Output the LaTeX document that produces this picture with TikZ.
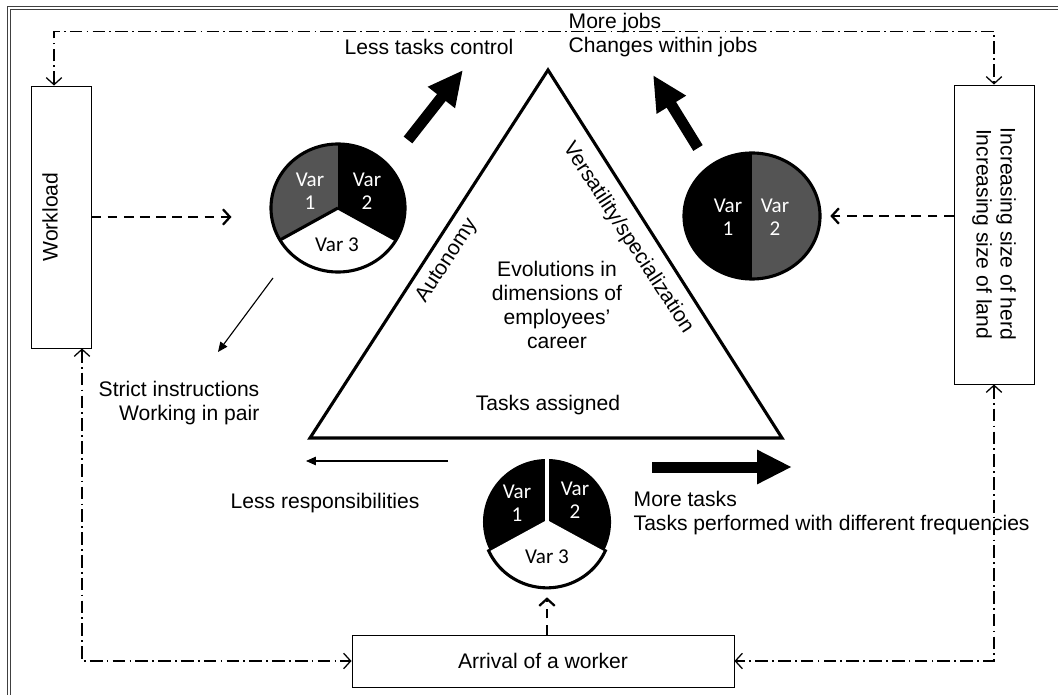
\documentclass[tikz,border=0pt]{standalone}
\usepackage{fontspec}
\setmainfont{Liberation Sans}
\newfontfamily\varfont{Carlito}
\usetikzlibrary{shapes, positioning, arrows.meta, calc}
\definecolor{pigrey}{gray}{0.33}
\tikzset{
  box/.style={draw, line width=0.6pt, inner sep=0pt},
  txt/.style={font=\fontsize{15}{17}\selectfont, inner sep=1pt},
  var/.style={font=\varfont\fontsize{15}{16.5}\selectfont, align=center, inner sep=0pt},
  pie/.style={ellipse, inner sep=0pt},
  fat/.style={line width=0.275cm, -{Triangle[width=0.8cm, length=0.875cm]}},
  thinarrow/.style={line width=0.8pt, -{Triangle[width=6pt, length=7pt]}},
  dashdot/.style={line width=0.9pt, dash pattern=on 9pt off 3pt on 1.2pt off 3pt, {Straight Barb[length=5pt, width=11pt]}-{Straight Barb[length=5pt, width=11pt]}},
  dasharrow/.style={line width=1.6pt, dash pattern=on 7pt off 4.5pt, -{Straight Barb[length=5pt, width=11pt]}},
  frame/.style={line width=0.6pt, gray!50!black},
}

\begin{document}
\begin{tikzpicture}[x=0.025cm, y=-0.025cm]
        \useasboundingbox (0,0) rectangle (1058,695);
        \draw[frame] (7.5,695) -- (7.5,6.5) -- (1058,6.5);
        \draw[frame] (10.5,695) -- (10.5,9.5) -- (1058,9.5);

        \node[box, minimum width=1.5cm, minimum height=6.55cm] at (61,217) (workload) {};
        \node[txt, rotate=90] at (50,217) (wl) {Workload};
        \node[box, minimum width=2cm, minimum height=7.475cm] at (994,234.5) (herd) {};
        \node[txt, rotate=-90, align=center] at (994,234) (hl) {Increasing size of herd\\Increasing size of land};
        \node[box, txt, minimum width=9.55cm, minimum height=1.3cm] at (543,661) (arrival) {Arrival of a worker};

        \coordinate (apex) at (548,70);
        \coordinate (tl) at (310,438);
        \coordinate (tr) at (782,438);
        \draw[line width=2.2pt, line join=miter] (tl) -- (apex) -- (tr) -- cycle;
        \node[txt, align=center] at (557,305) (evo) {Evolutions in\\dimensions of\\employees’\\career};
        \node[txt] at (548,405) (assigned) {Tasks assigned};
        \node[txt, rotate=57] at (447,261) (auto) {Autonomy};
        \node[txt, rotate=-57] at (628,238) (vers) {Versatility/specialization};

        \node[pie, minimum width=3.35cm, minimum height=3.2cm] at (338,208) (pieA) {};
        \fill[pigrey] (pieA.center) -- ++(90:1.6cm) arc[start angle=90, end angle=210, x radius=1.675cm, y radius=1.6cm] -- cycle;
        \fill[black] (pieA.center) -- ++(-30:1.675cm and 1.6cm) arc[start angle=-30, end angle=90, x radius=1.675cm, y radius=1.6cm] -- cycle;
        \draw[line width=2.2pt] (pieA.center) -- ++(210:1.675cm and 1.6cm) (pieA.center) -- ++(330:1.675cm and 1.6cm);
        \draw[line width=2.2pt] (pieA) ellipse[x radius=1.675cm, y radius=1.6cm];
        \node[var, text=white] at (310,191) (a1) {Var\\1};
        \node[var, text=white] at (367,191) (a2) {Var\\2};
        \node[var] at (337,245) (a3) {Var 3};

        \node[pie, minimum width=3.4cm, minimum height=3.15cm] at (752,216) (pieB) {};
        \fill[black] (pieB.center) -- ++(90:1.575cm) arc[start angle=90, end angle=270, x radius=1.7cm, y radius=1.575cm] -- cycle;
        \fill[pigrey] (pieB.center) -- ++(-90:1.575cm) arc[start angle=-90, end angle=90, x radius=1.7cm, y radius=1.575cm] -- cycle;
        \draw[line width=2.2pt] (pieB) ellipse[x radius=1.7cm, y radius=1.575cm];
        \node[var, text=white] at (728,217) (b1) {Var\\1};
        \node[var, text=white] at (775,217) (b2) {Var\\2};

        \node[pie, minimum width=3.2cm, minimum height=3.15cm] at (547,522) (pieC) {};
        \fill[black] (pieC.center) -- ++(90:1.575cm) arc[start angle=90, end angle=210, x radius=1.6cm, y radius=1.575cm] -- cycle;
        \fill[black] (pieC.center) -- ++(-30:1.6cm and 1.575cm) arc[start angle=-30, end angle=90, x radius=1.6cm, y radius=1.575cm] -- cycle;
        \draw[white, line width=2.5pt] (pieC.center) -- ++(90:1.7cm) (pieC.center) -- ++(210:1.8cm and 1.7cm) (pieC.center) -- ++(330:1.8cm and 1.7cm);
        \draw[line width=2.2pt] ([yshift=-2pt]pieC.center) ++(203:1.6cm and 1.575cm) arc[start angle=203, end angle=337, x radius=1.6cm, y radius=1.575cm];
        \node[var, text=white] at (517,503) (c1) {Var\\1};
        \node[var, text=white] at (575,500) (c2) {Var\\2};
        \node[var] at (547,557) (c3) {Var 3};

        \node[txt] at (429,47) (control) {Less tasks control};
        \node[txt, align=left, anchor=west] at (567,35) (jobs) {More jobs\\Changes within jobs};
        \node[txt, align=right, anchor=east] at (261,403) (strict) {Strict instructions\\Working in pair};
        \node[txt] at (325,503) (resp) {Less responsibilities};
        \node[txt, align=left, anchor=west] at (632,513) (tasks) {More tasks\\Tasks performed with different frequencies};

        \coordinate (f1) at (408,140);
        \coordinate (f2) at (463,70);
        \coordinate (g1) at (698,148);
        \coordinate (g2) at (653,75);
        \coordinate (h1) at (652,467);
        \coordinate (h2) at (792,467);
        \draw[fat] (f1) -- (f2);
        \draw[fat] (g1) -- (g2);
        \draw[fat] (h1) -- (h2);

        \coordinate (s1) at (273,278);
        \coordinate (s2) at (218,352);
        \coordinate (r1) at (448,461);
        \coordinate (r2) at (306,461);
        \draw[thinarrow] (s1) -- (s2);
        \draw[thinarrow] (r1) -- (r2);

        \draw[dasharrow, shorten >=0.98cm] (workload.east) -- (workload.east -| pieA.west);
        \draw[dasharrow, shorten >=0.25cm] (herd.west |- pieB) -- (pieB.east);
        \draw[dasharrow, shorten >=0.3cm] (pieC.south |- arrival.north) -- (pieC.south);

        \draw[dashdot] ([xshift=-0.175cm]workload.north) -- ++(0,-54) -| (herd.north);
        \draw[dashdot] ([xshift=0.525cm]workload.south) |- (arrival.west);
        \draw[dashdot] (herd.south) |- (arrival.east);
    \end{tikzpicture}
\end{document}
